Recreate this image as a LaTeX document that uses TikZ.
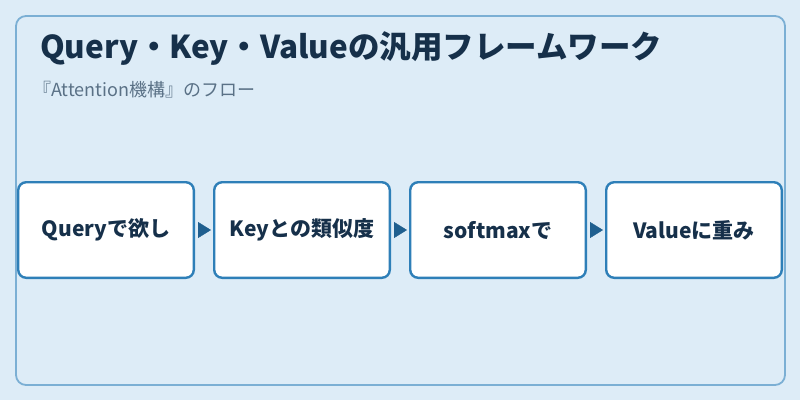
\documentclass[tikz,border=0pt]{standalone}
\usepackage{fontspec}
\setmainfont{Noto Sans CJK JP}
\usepackage{tikz}
\usetikzlibrary{positioning, arrows.meta}
\definecolor{bgblue}{HTML}{DDECF7}
\definecolor{frameblue}{HTML}{7BAFD4}
\definecolor{boxblue}{HTML}{2E7FB8}
\definecolor{arrowblue}{HTML}{1F5F8F}
\definecolor{inkdark}{HTML}{16304A}
\definecolor{subgray}{HTML}{5A7186}

\begin{document}
\begin{tikzpicture}[x=1pt, y=-1pt,
	stagebox/.style={draw=boxblue, line width=2.4pt, fill=white, rounded corners=8pt, minimum width=175.6pt, minimum height=95.6pt, inner sep=0pt, text=inkdark, font=\bfseries\fontsize{21}{23}\selectfont},
	flowarrow/.style={arrowblue, -{Triangle[length=13pt, width=16pt]}, shorten <=3pt, shorten >=2pt}]
						\fill[bgblue] (0,0) rectangle (800,400);
						\draw[frameblue, line width=1.8pt, rounded corners=10pt] (16,16) rectangle (785,385);
						
						\node[anchor=base west, text=inkdark, inner sep=0pt, font=\bfseries\fontsize{31.5}{33}\selectfont] (title) at (40,58) {Query・Key・Valueの汎用フレームワーク};
						\node[anchor=base west, text=subgray, inner sep=0pt, font=\fontsize{18}{20}\selectfont] (subtitle) at (33,96) {『Attention機構』のフロー};
						
						\node[stagebox] (query) at (106,230) {Queryで欲し};
						\node[stagebox, right=18pt of query] (key) {Keyとの類似度};
						\node[stagebox, right=18pt of key] (soft) {softmaxで};
						\node[stagebox, right=18pt of soft] (value) {Valueに重み};
						
						\draw[flowarrow] (query) -- (key);
						\draw[flowarrow] (key) -- (soft);
						\draw[flowarrow] (soft) -- (value);
						
						\useasboundingbox (0,0) rectangle (800,400);
						\end{tikzpicture}
\end{document}
